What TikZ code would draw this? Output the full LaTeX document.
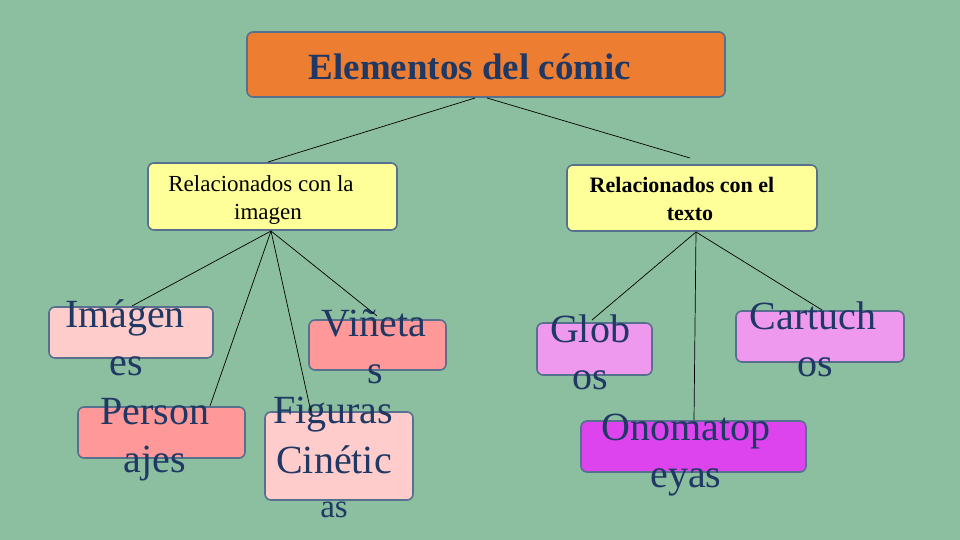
\documentclass[tikz,border=0pt]{standalone}
\usepackage{fontspec}
\setmainfont{Liberation Serif}
\begin{document}
\begin{tikzpicture}[x=1pt,y=-1pt,
  bx/.style={draw=bord,line width=1.6pt,rounded corners=6pt},
  big/.style={text=txt,font=\fontsize{40}{40}\selectfont,inner sep=0pt,anchor=base},
  mid/.style={text=black,inner sep=0pt,anchor=base},
  ln/.style={black,line width=0.7pt}]
\definecolor{bg}{HTML}{8CBF9F}
\definecolor{bord}{HTML}{56708E}
\definecolor{txt}{HTML}{1F3864}
\fill[bg] (0,0) rectangle (960,540);
\useasboundingbox (0,0) rectangle (960,540);
% boxes
\draw[bx,fill={rgb,255:red,237;green,125;blue,49}] (247,32) rectangle (725,97);
\node[text=txt,font=\bfseries\fontsize{37}{37}\selectfont,inner sep=0pt,anchor=base] (t) at (470,80) {Elementos del cómic};
\draw[bx,fill={rgb,255:red,255;green,255;blue,153}] (148,163) rectangle (397,230);
\node[mid,font=\fontsize{23}{23}\selectfont] (l1) at (261,191) {Relacionados con la};
\node[mid,font=\fontsize{23}{23}\selectfont] (l2) at (268,219) {imagen};
\draw[bx,fill={rgb,255:red,255;green,255;blue,153}] (567,165) rectangle (817,231);
\node[mid,font=\bfseries\fontsize{22}{22}\selectfont] (r1) at (682,193) {Relacionados con el};
\node[mid,font=\bfseries\fontsize{22}{22}\selectfont] (r2) at (690,220) {texto};
\draw[bx,fill={rgb,255:red,255;green,204;blue,204}] (49,307) rectangle (213,358);
\draw[bx,fill={rgb,255:red,255;green,153;blue,153}] (78,407) rectangle (245,458);
\draw[bx,fill={rgb,255:red,255;green,153;blue,153}] (309,320) rectangle (446,370);
\draw[bx,fill={rgb,255:red,255;green,204;blue,204}] (265,412) rectangle (413,500);
\draw[bx,fill={rgb,255:red,238;green,153;blue,238}] (537,323) rectangle (652,375);
\draw[bx,fill={rgb,255:red,238;green,153;blue,238}] (736,311) rectangle (904,362);
\draw[bx,fill={rgb,255:red,221;green,68;blue,238}] (581,421) rectangle (806,472);
% texts
\node[big] (a1) at (125,327) {Imágen}; \node[big] (a2) at (126,375) {es};
\node[big] (b1) at (155,424) {Person}; \node[big] (b2) at (155,472) {ajes};
\node[big] (c1) at (374,336) {Viñeta}; \node[big] (c2) at (375,383) {s};
\node[big] (d1) at (333,423) {Figuras}; \node[big] (d2) at (334,473) {Cinétic};
\node[big,font=\fontsize{33}{33}\selectfont] (d3) at (334,517) {as};
\node[big] (e1) at (590,342) {Glob}; \node[big] (e2) at (590,389) {os};
\node[big] (f1) at (813,329) {Cartuch}; \node[big] (f2) at (815,376) {os};
\node[big] (g1) at (686,440) {Onomatop}; \node[big] (g2) at (686,487) {eyas};
% connectors
\coordinate (tl) at (475,98); \coordinate (tr) at (487,98);
\coordinate (li) at (268,162); \coordinate (ri) at (690,158);
\coordinate (lh) at (271,231); \coordinate (rh) at (696,232);
\coordinate (pa) at (132,306); \coordinate (pb) at (210,406);
\coordinate (pd) at (311,412); \coordinate (pc) at (377,316);
\coordinate (pe) at (592,320); \coordinate (pg) at (694,420); \coordinate (pf) at (822,310);
\draw[ln] (tl)--(li); \draw[ln] (tr)--(ri);
\draw[ln] (lh)--(pa); \draw[ln] (lh)--(pb); \draw[ln] (lh)--(pd); \draw[ln] (lh)--(pc);
\draw[ln] (rh)--(pe); \draw[ln] (rh)--(pg); \draw[ln] (rh)--(pf);
\end{tikzpicture}
\end{document}
